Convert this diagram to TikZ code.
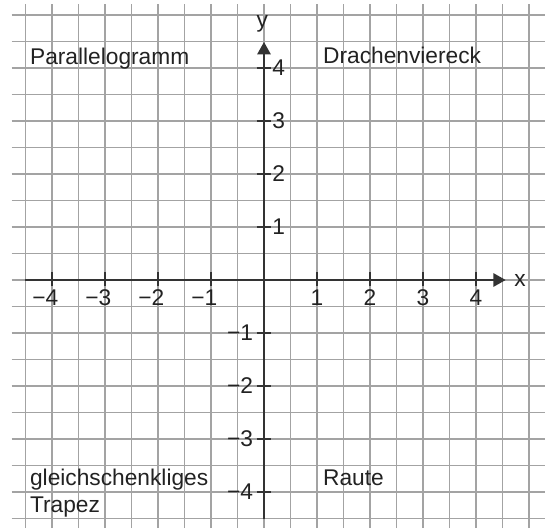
\documentclass[tikz,border=0pt]{standalone}
\usepackage{fontspec}
\setmainfont{Liberation Sans}
\usetikzlibrary{arrows.meta}
\definecolor{gridc}{HTML}{A3A3A3}
\definecolor{axisc}{HTML}{333333}
\definecolor{textc}{HTML}{222222}
\newcommand{\mns}{\char"2212\relax}
\begin{document}
\begin{tikzpicture}[
  font=\fontsize{12.2}{14.2}\selectfont,
  gridline/.style={draw=gridc, line width=0.55pt},
  axisline/.style={draw=axisc, line width=0.85pt, -{Triangle[length=6.6pt,width=7.2pt]}},
  tickline/.style={draw=axisc, line width=0.7pt},
  numlabel/.style={text=textc, inner sep=0pt},
  wordlabel/.style={text=textc, inner sep=0pt, anchor=base west}
]
\useasboundingbox (-4.981,-4.698) rectangle (5.434,5.283);
% grid
\foreach \y in {-4.5,-4,...,5.1} \draw[gridline] (-4.76,\y) -- (5.31,\y);
\foreach \x in {-4.5,-4,...,5.1} \draw[gridline] (\x,-4.68) -- (\x,5.21);
% axes
\coordinate (xs) at (-4.5,0);
\coordinate (xe) at (4.56,0);
\coordinate (ys) at (0,-4.5);
\coordinate (ye) at (0,4.49);
\draw[axisline] (xs) -- (xe);
\draw[axisline] (ys) -- (ye);
\node[numlabel, anchor=base] (xlab) at (4.83,-0.126) {x};
\node[numlabel, anchor=base] (ylab) at (-0.03,4.77) {y};
% ticks and labels on x
\foreach \i in {1,2,3,4} {
  \draw[tickline] (\i,-0.12) -- (\i,0.15);
  \node[numlabel, anchor=base] (xp\i) at (\i,-0.49) {\i};
  \draw[tickline] (-\i,-0.12) -- (-\i,0.15);
  \node[numlabel, anchor=base] (xn\i) at (-\i,-0.49) {\llap{\mns}\i};
}
% ticks and labels on y
\foreach \i in {1,2,3,4} {
  \draw[tickline] (-0.14,\i) -- (0.14,\i);
  \node[numlabel, anchor=base west] (yp\i) at (0.15,\i-0.148) {\i};
  \draw[tickline] (-0.14,-\i) -- (0.14,-\i);
  \node[numlabel, anchor=base east] (yn\i) at (-0.2,-\i-0.148) {\mns\i};
}
% words
\node[wordlabel] (para) at (-4.42,4.075) {Parallelogramm};
\node[wordlabel] (drache) at (1.11,4.085) {Drachenviereck};
\node[wordlabel] (raute) at (1.11,-3.88) {Raute};
\node[wordlabel] (trapez) at (-4.42,-3.88) {\begin{tabular}[t]{@{}l@{}}gleichschenkliges\\Trapez\end{tabular}};
\end{tikzpicture}
\end{document}
